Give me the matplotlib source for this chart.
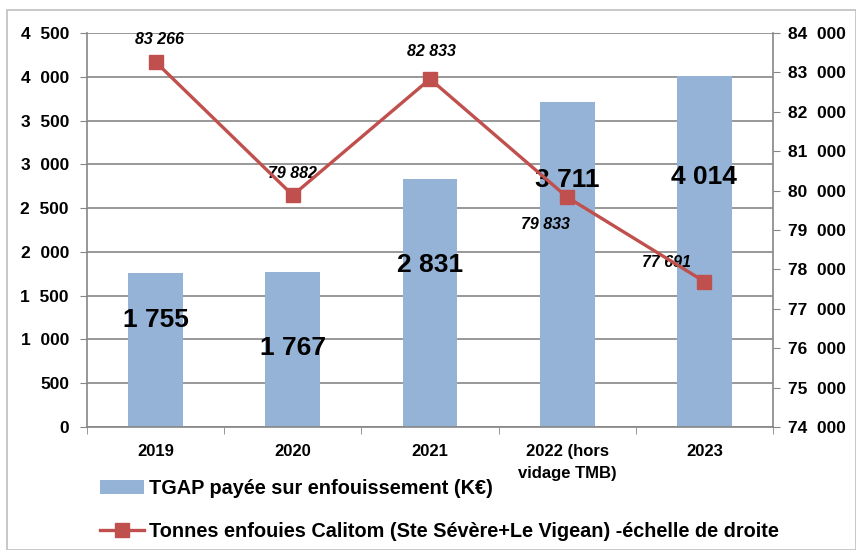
import matplotlib

matplotlib.use('Agg')

from matplotlib import pyplot as plt
from matplotlib.patches import Rectangle
from matplotlib.ticker import FuncFormatter
import numpy as np

plt.rcParams['font.family'] = ['Liberation Sans', 'DejaVu Sans']
plt.rcParams['font.weight'] = 'bold'

years = ['2019', '2020', '2021', '2022 (hors\nvidage TMB)', '2023']
tgap = [1755, 1767, 2831, 3711, 4014]
tonnes = [83266, 79882, 82833, 79833, 77691]

# where the bar value labels sit (left axis units), hand placed like in the source
bar_label_y = [1222, 902, 1850, 2821, 2860]
# offsets (points) of the line labels relative to each marker
line_label_off = [(3, 16), (0, 16), (1, 20), (-16, -20), (-27, 14)]

bar_color = '#95B3D7'
line_color = '#C0504D'
grid_color = '#868686'


def spaced(v, pos=None):
  return '{:,.0f}'.format(v).replace(',', '  ')


def main():
  fig = plt.figure(figsize=(8.56, 5.5), dpi=100)
  ax = fig.add_axes([87 / 856, 1 - 427 / 550, (773 - 87) / 856, (427 - 33) / 550])
  x = np.arange(len(years))

  ax.bar(x, tgap, width=0.4, color=bar_color, zorder=2,
         label='TGAP payée sur enfouissement (K€)')
  for xi, v, ly in zip(x, tgap, bar_label_y):
    ax.text(xi, ly, spaced(v).replace('  ', ' '), ha='center', va='center',
            fontsize=19, fontweight='bold', zorder=5)

  ax.set_xlim(-0.5, len(years) - 0.5)
  ax.set_ylim(0, 4500)
  ax.set_yticks(np.arange(0, 4501, 500))
  ax.yaxis.set_major_formatter(FuncFormatter(spaced))
  ax.set_xticks(x)
  ax.set_xticklabels(years, fontsize=12, fontweight='bold', linespacing=1.6)
  ax.set_xticks(np.arange(-0.5, len(years), 1), minor=True)
  ax.tick_params(axis='x', which='major', length=0, pad=12)
  ax.tick_params(axis='x', which='minor', length=5, color=grid_color, direction='out')
  ax.tick_params(axis='y', labelsize=12.5, length=5, color=grid_color, direction='out', pad=8)
  ax.grid(axis='y', color=grid_color, linewidth=1.2, zorder=0)
  ax.set_axisbelow(True)
  for s in ['left', 'bottom']:
    ax.spines[s].set_color(grid_color)
    ax.spines[s].set_linewidth(1.2)
  ax.spines['top'].set_visible(False)
  ax.spines['right'].set_visible(False)

  ax2 = ax.twinx()
  ax2.plot(x, tonnes, color=line_color, linewidth=2.4, marker='s', markersize=10,
           zorder=4, label='Tonnes enfouies Calitom (Ste Sévère+Le Vigean) -échelle de droite')
  for xi, v, off in zip(x, tonnes, line_label_off):
    ax2.annotate(spaced(v).replace('  ', ' '), (xi, v), xytext=off, textcoords='offset points',
                 ha='center', va='center', fontsize=11.5, fontweight='bold', fontstyle='italic')
  ax2.set_ylim(74000, 84000)
  ax2.set_yticks(np.arange(74000, 84001, 1000))
  ax2.yaxis.set_major_formatter(FuncFormatter(spaced))
  ax2.tick_params(axis='y', labelsize=12.5, length=5, color=grid_color, direction='out', pad=6)
  ax2.spines['right'].set_color(grid_color)
  ax2.spines['right'].set_linewidth(1.2)
  for s in ['left', 'top', 'bottom']:
    ax2.spines[s].set_visible(False)

  h1, l1 = ax.get_legend_handles_labels()
  h2, l2 = ax2.get_legend_handles_labels()
  fig.legend(h1 + h2, l1 + l2, loc='upper left', bbox_to_anchor=(100 / 856, 1 - 479 / 550),
             frameon=False, fontsize=14.3, handlelength=2.2, handletextpad=0.25,
             labelspacing=1.2, borderaxespad=0, borderpad=0)

  fig.patches.append(Rectangle((7 / 856, 0), 1 - 7 / 856, 1 - 10 / 550,
                               transform=fig.transFigure, fill=False,
                               edgecolor='#BFBFBF', linewidth=1.2))
  fig.savefig('out.png', dpi=100)


if __name__ == '__main__':
  main()
